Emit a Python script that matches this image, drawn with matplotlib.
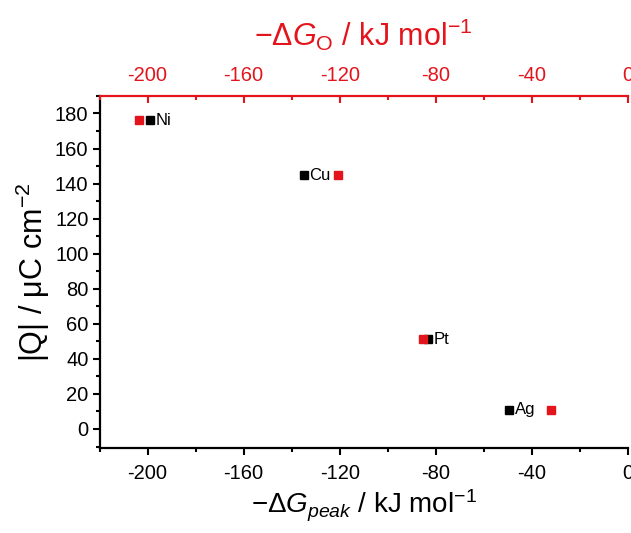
import matplotlib
matplotlib.use("Agg")
import matplotlib.pyplot as plt
from matplotlib.ticker import MultipleLocator

plt.rcParams['font.family'] = ['Liberation Sans', 'DejaVu Sans']
plt.rcParams['mathtext.fontset'] = 'custom'
plt.rcParams['mathtext.rm'] = 'Liberation Sans'
plt.rcParams['mathtext.it'] = 'Liberation Sans:italic'
plt.rcParams['mathtext.default'] = 'rm'
plt.rcParams['axes.unicode_minus'] = False

metals = ['Ni', 'Cu', 'Pt', 'Ag']
dG_peak = [-199, -134.9, -83.2, -49.4]
dG_O = [-203.6, -120.6, -85.3, -32.1]
Q = [176.2, 144.7, 51.3, 10.9]

RED = '#e3141c'

fig = plt.figure(figsize=(6.31, 5.33), dpi=100)
ax = fig.add_axes([0.1577, 0.159, 0.8375, 0.661])

ax.plot(dG_peak, Q, 's', color='black', markersize=5.5, linestyle='none', zorder=3)
ax.plot(dG_O, Q, 's', color=RED, markersize=5.5, linestyle='none', zorder=3)
for m, x, y in zip(metals, dG_peak, Q):
    ax.text(x + 2.2, y, m, fontsize=12, va='center', ha='left')

ax.set_xlim(-220, 0)
ax.set_ylim(-11, 190)
ax.xaxis.set_major_locator(MultipleLocator(40))
ax.xaxis.set_minor_locator(MultipleLocator(20))
ax.yaxis.set_major_locator(MultipleLocator(20))
ax.yaxis.set_minor_locator(MultipleLocator(10))
ax.tick_params(axis='both', which='major', direction='out', length=5, width=1.5, labelsize=14.5)
ax.tick_params(axis='both', which='minor', direction='out', length=3, width=1.5)
ax.tick_params(axis='x', pad=6)
ax.tick_params(axis='y', pad=3)
for s in ['left', 'bottom']:
    ax.spines[s].set_linewidth(1.6)
ax.spines['right'].set_visible(False)
ax.spines['top'].set_visible(False)

ax.set_xlabel(r'$-\Delta\mathit{G}_{\mathit{peak}}$ / kJ mol$^{-1}$', fontsize=20, labelpad=4)
ax.set_ylabel(r'|Q| / $\mu$C cm$^{-2}$', fontsize=22, labelpad=2)

ax2 = ax.twiny()
ax2.set_xlim(ax.get_xlim())
ax2.xaxis.set_major_locator(MultipleLocator(40))
ax2.xaxis.set_minor_locator(MultipleLocator(20))
ax2.tick_params(axis='x', which='major', direction='in', length=5, width=1.5,
                colors=RED, labelsize=14.5, pad=8)
ax2.tick_params(axis='x', which='minor', direction='in', length=3, width=1.5, colors=RED)
for s in ['left', 'right', 'bottom']:
    ax2.spines[s].set_visible(False)
ax2.spines['top'].set_color(RED)
ax2.spines['top'].set_linewidth(1.6)
ax2.set_xlabel(r'$-\Delta\mathit{G}_{O}$ / kJ mol$^{-1}$', fontsize=22, color=RED, labelpad=14)

fig.savefig('out.png', dpi=100)
